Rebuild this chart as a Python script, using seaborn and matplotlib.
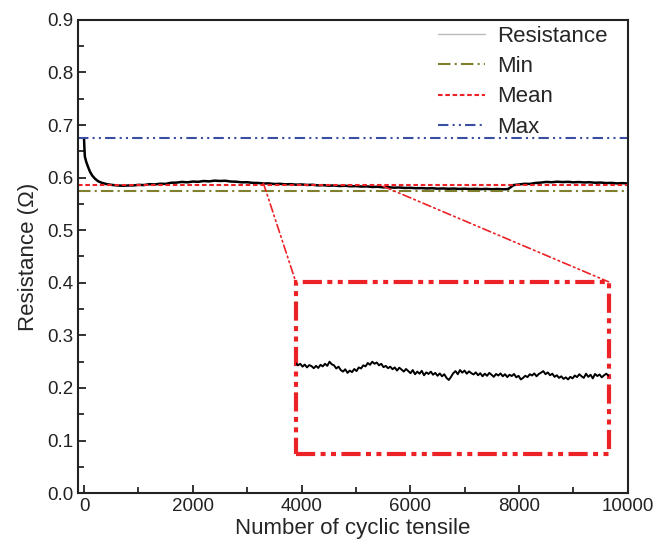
import numpy as np
import pandas as pd
import matplotlib
matplotlib.use("Agg")
import matplotlib.pyplot as plt
import seaborn as sns
from matplotlib.lines import Line2D
from matplotlib.patches import Rectangle, ConnectionPatch

# ---- data ----
early_cycles = [0, 5, 15, 40, 75, 110, 150, 200, 260, 330, 420, 520, 620, 720, 820, 920]
early_res = [0.674, 0.660, 0.640, 0.630, 0.620, 0.611, 0.604, 0.598, 0.593, 0.590,
             0.5875, 0.586, 0.585, 0.5845, 0.585, 0.5852]

later_cycles = list(range(1000, 10001, 100))
later_res = [
    0.5862, 0.5858, 0.5875, 0.5870, 0.5884, 0.5880, 0.5902, 0.5905, 0.5918, 0.5910,
    0.5925, 0.5920, 0.5935, 0.5928, 0.5942, 0.5936, 0.5940, 0.5925, 0.5922, 0.5910,
    0.5912, 0.5900, 0.5898, 0.5888, 0.5890, 0.5878, 0.5882, 0.5872, 0.5876, 0.5866,
    0.5870, 0.5860, 0.5864, 0.5852, 0.5856, 0.5846, 0.5850, 0.5840, 0.5845, 0.5835,
    0.5838, 0.5830, 0.5833, 0.5822, 0.5826, 0.5815, 0.5818, 0.5808, 0.5812, 0.5803,
    0.5806, 0.5798, 0.5801, 0.5794, 0.5798, 0.5790, 0.5794, 0.5788, 0.5792, 0.5785,
    0.5789, 0.5783, 0.5787, 0.5781, 0.5786, 0.5779, 0.5784, 0.5778, 0.5782, 0.5858,
    0.5870, 0.5882, 0.5880, 0.5898, 0.5905, 0.5918, 0.5912, 0.5922, 0.5915, 0.5920,
    0.5910, 0.5916, 0.5908, 0.5912, 0.5902, 0.5906, 0.5896, 0.5900, 0.5890, 0.5895,
    0.5888,
]

# zoomed window (cycles 3300 - 5500)
zoom_start, zoom_end = 3300, 5500
zoom_res = [
    0.5868, 0.5860, 0.5866, 0.5855, 0.5863, 0.5852, 0.5861, 0.5857, 0.5849, 0.5858,
    0.5850, 0.5862, 0.5856, 0.5866, 0.5858, 0.5874, 0.5864, 0.5860, 0.5848, 0.5855,
    0.5842, 0.5836, 0.5845, 0.5831, 0.5840, 0.5834, 0.5846, 0.5838, 0.5852, 0.5848,
    0.5860, 0.5856, 0.5869, 0.5862, 0.5874, 0.5866, 0.5871, 0.5860, 0.5866, 0.5853,
    0.5858, 0.5849, 0.5855, 0.5845, 0.5852, 0.5840, 0.5851, 0.5844, 0.5836, 0.5846,
    0.5838, 0.5830, 0.5842, 0.5826, 0.5836, 0.5828, 0.5839, 0.5822, 0.5833, 0.5827,
    0.5836, 0.5824, 0.5831, 0.5820, 0.5829, 0.5818, 0.5826, 0.5812, 0.5804, 0.5816,
    0.5830, 0.5838, 0.5826, 0.5842, 0.5832, 0.5840, 0.5828, 0.5837, 0.5830, 0.5825,
    0.5833, 0.5822, 0.5830, 0.5818, 0.5828, 0.5820, 0.5831, 0.5824, 0.5816, 0.5827,
    0.5821, 0.5829, 0.5818, 0.5826, 0.5815, 0.5824, 0.5819, 0.5827, 0.5814, 0.5820,
    0.5806, 0.5812, 0.5820, 0.5815, 0.5826, 0.5821, 0.5829, 0.5818, 0.5827, 0.5832,
    0.5838, 0.5826, 0.5833, 0.5822, 0.5828, 0.5816, 0.5822, 0.5812, 0.5818, 0.5808,
    0.5814, 0.5806, 0.5816, 0.5810, 0.5821, 0.5815, 0.5826, 0.5818, 0.5812, 0.5828,
    0.5816, 0.5824, 0.5810, 0.5827, 0.5819, 0.5825, 0.5814, 0.5822, 0.5828, 0.5820,
]

min_res = 0.575
mean_res = 0.586
max_res = 0.675

df = pd.DataFrame({"cycle": early_cycles + later_cycles, "res": early_res + later_res})
zoom_df = pd.DataFrame({"cycle": np.linspace(zoom_start, zoom_end, len(zoom_res)), "res": zoom_res})

# ---- style ----
sns.set_style("ticks")
plt.rcParams["font.family"] = ["Liberation Sans", "DejaVu Sans"]

RED = "#ec2227"
OLIVE = "#7f7f2e"
BLUE = "#3a4fa2"

fig = plt.figure(figsize=(6.56, 5.51), dpi=100)
ax = fig.add_axes([0.119, 0.105, 0.838, 0.859])

sns.lineplot(data=df, x="cycle", y="res", ax=ax, color="black", lw=1.8)
ax.axhline(min_res, color=OLIVE, lw=1.5, ls=(0, (6, 2, 1, 2)))
ax.axhline(mean_res, color=RED, lw=1.5, ls=(0, (2.2, 1.3)))
ax.axhline(max_res, color=BLUE, lw=1.5, ls=(0, (5, 2, 1, 2, 1, 2)))

ax.set_xlim(-110, 10000)
ax.set_ylim(0, 0.9)
ax.set_xticks([0, 2000, 4000, 6000, 8000, 10000])
ax.set_xticks(range(1000, 10000, 2000), minor=True)
ax.set_yticks(np.arange(0, 0.91, 0.1))
ax.set_yticks(np.arange(0.05, 0.9, 0.1), minor=True)
ax.yaxis.set_major_formatter(plt.FormatStrFormatter("%.1f"))
ax.tick_params(direction="in", length=6, width=1.3, labelsize=13.5, colors="#222222")
ax.tick_params(which="minor", direction="in", length=4, width=1.3)
for s in ax.spines.values():
    s.set_linewidth(1.5)
    s.set_color("#222222")
ax.set_xlabel("Number of cyclic tensile", fontsize=16, labelpad=2)
ax.set_ylabel("Resistance (\u03a9)", fontsize=16, labelpad=6)

handles = [
    Line2D([], [], color="#bbbbbb", lw=1.0),
    Line2D([], [], color=OLIVE, lw=1.5, ls=(0, (6, 2, 1, 2))),
    Line2D([], [], color=RED, lw=1.5, ls=(0, (2.2, 1.3))),
    Line2D([], [], color=BLUE, lw=1.5, ls=(0, (5, 2, 1, 2, 1, 2))),
]
ax.legend(handles, ["Resistance", "Min", "Mean", "Max"], loc="upper right",
          bbox_to_anchor=(1.0, 1.03), frameon=False, fontsize=16,
          handlelength=2.1, handletextpad=0.55, labelspacing=0.42)

# ---- zoom inset ----
ins = ax.inset_axes([0.396, 0.0825, 0.569, 0.364])
sns.lineplot(data=zoom_df, x="cycle", y="res", ax=ins, color="black", lw=1.4)
ins.set_xlim(zoom_start, zoom_end)
ins.set_ylim(0.552, 0.618)
ins.set_xticks([])
ins.set_yticks([])
ins.set_xlabel("")
ins.set_ylabel("")
for s in ins.spines.values():
    s.set_visible(False)
ins.patch.set_alpha(0)
ins.add_patch(Rectangle((0, 0), 1, 1, transform=ins.transAxes, fill=False,
                        edgecolor=RED, lw=3.0, ls=(0, (4.6, 1.3, 1.2, 1.3, 1.2, 1.3)),
                        clip_on=False))

for (cx, cy), corner in [((3300, 0.589), (0, 1)), ((5500, 0.5835), (1, 1))]:
    con = ConnectionPatch(xyA=(cx, cy), coordsA=ax.transData,
                          xyB=corner, coordsB=ins.transAxes,
                          color=RED, lw=1.2, ls=(0, (5, 2, 1, 2, 1, 2)))
    fig.add_artist(con)

fig.savefig("out.png", dpi=100)
